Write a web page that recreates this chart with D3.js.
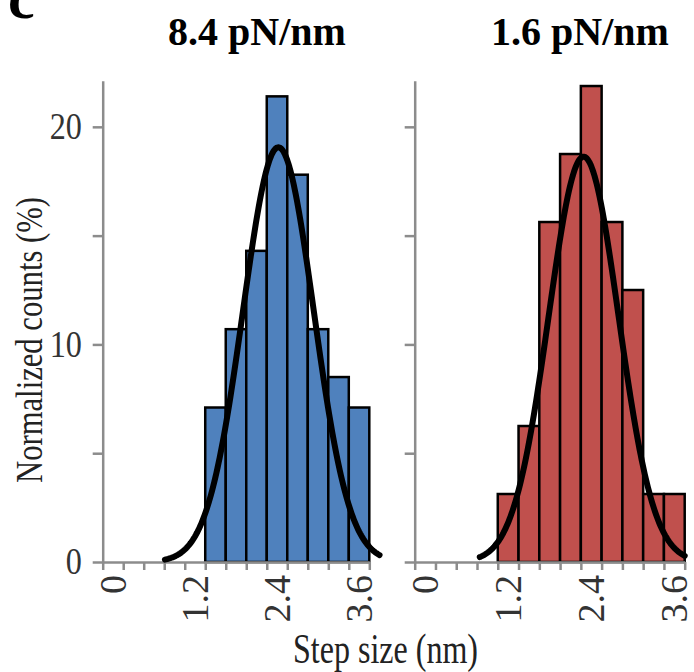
<!DOCTYPE html>
<html>
<head>
<meta charset="utf-8">
<script src="https://cdn.jsdelivr.net/npm/d3@7"></script>
<style>
  html, body { margin: 0; padding: 0; background: #fff; }
  svg { display: block; }
</style>
</head>
<body>
<svg id="chart" width="694" height="672"></svg>
<script>
// ---- data ----
const panelTitles = ["8.4 pN/nm", "1.6 pN/nm"];
const binWidth = 0.3;
const binCentersLeft = [1.5, 1.8, 2.1, 2.4, 2.7, 3.0, 3.3, 3.6];
const valuesLeft = [7.1, 10.7, 14.3, 21.4, 17.8, 10.7, 8.5, 7.1];
const binCentersRight = [1.2, 1.5, 1.8, 2.1, 2.4, 2.7, 3.0, 3.3, 3.6];
const valuesRight = [3.125, 6.25, 15.625, 18.75, 21.875, 15.625, 12.5, 3.125, 3.125];
// Gaussian fit parameters: [amplitude, mean, sigma, xStart, xEnd]
const fitLeft = [19.06, 2.42, 0.517, 0.76, 3.9];
const fitRight = [18.63, 2.29, 0.505, 0.79, 3.75];
const xTickLabels = [0, 1.2, 2.4, 3.6];
const xMinorTicks = d3.range(0, 14).map(k => -0.15 + 0.3 * k);
const yTicks = [0, 5, 10, 15, 20];
const yTickLabels = [0, 10, 20];

const svg = d3.select("#chart");
const font = "'Liberation Serif', 'Times New Roman', serif";
const axisColor = "#8c8c8c";

const y = d3.scaleLinear().domain([0, 22.12]).range([562, 80.7]);

const panels = [
  { title: panelTitles[0], centers: binCentersLeft, values: valuesLeft, fit: fitLeft,
    range: [102.7, 369.3], fill: "#4f81bd", titleX: 257, showYLabels: true },
  { title: panelTitles[1], centers: binCentersRight, values: valuesRight, fit: fitRight,
    range: [414.7, 684.7], fill: "#c0504d", titleX: 580, showYLabels: false }
];

panels.forEach(p => {
  const x = d3.scaleLinear().domain([-0.15, 3.75]).range(p.range);
  const g = svg.append("g");

  // bars
  g.selectAll("rect.bar").data(p.centers).join("rect")
    .attr("class", "bar")
    .attr("x", (c) => x(c - binWidth / 2))
    .attr("width", (c) => x(c + binWidth / 2) - x(c - binWidth / 2))
    .attr("y", (c, i) => y(p.values[i]))
    .attr("height", (c, i) => y(0) - y(p.values[i]))
    .attr("fill", p.fill)
    .attr("stroke", "#000")
    .attr("stroke-width", 2.5);

  // y axis
  const yAxis = d3.axisLeft(y).tickValues(yTicks).tickSize(10).tickSizeOuter(0).tickPadding(14)
    .tickFormat(d => (p.showYLabels && yTickLabels.includes(d)) ? d : "");
  const ya = g.append("g").attr("transform", `translate(${p.range[0]},0)`).call(yAxis);
  ya.select(".domain").attr("stroke", axisColor).attr("stroke-width", 2.5);
  ya.selectAll(".tick line").attr("stroke", axisColor).attr("stroke-width", 2.5);
  ya.selectAll(".tick text")
    .attr("font-family", font).attr("font-size", 37).attr("fill", "#333")
    .attr("transform", "scale(0.87,1)");

  // x axis minor ticks
  const xAxis = d3.axisBottom(x).tickValues(xMinorTicks).tickSize(8).tickSizeOuter(0).tickFormat("");
  const xa = g.append("g").attr("transform", `translate(0,${y(0)})`).call(xAxis);
  xa.select(".domain").attr("stroke", axisColor).attr("stroke-width", 2.5);
  xa.selectAll(".tick line").attr("stroke", axisColor).attr("stroke-width", 2.5);

  // x axis labels (rotated)
  const xLab = d3.axisBottom(x).tickValues(xTickLabels).tickSize(0).tickFormat(d => d === 0 ? "0" : d3.format(".1f")(d));
  const xl = g.append("g").attr("transform", `translate(0,${y(0)})`).call(xLab);
  xl.select(".domain").remove();
  xl.selectAll(".tick text")
    .attr("font-family", font).attr("font-size", 38).attr("fill", "#333")
    .attr("transform", "rotate(-90)")
    .attr("text-anchor", "end")
    .attr("x", -13).attr("y", 0).attr("dy", "0.33em");

  // gaussian fit
  const [amp, mu, sig, x0, x1] = p.fit;
  const pts = d3.range(0, 201).map(i => {
    const xv = x0 + (x1 - x0) * i / 200;
    return [xv, amp * Math.exp(-((xv - mu) ** 2) / (2 * sig * sig))];
  });
  g.append("path")
    .attr("d", d3.line().x(d => x(d[0])).y(d => y(d[1]))(pts))
    .attr("fill", "none").attr("stroke", "#000").attr("stroke-width", 6)
    .attr("stroke-linecap", "round").attr("stroke-linejoin", "round");

  // title
  svg.append("text").attr("x", p.titleX).attr("y", 45)
    .attr("text-anchor", "middle").attr("font-family", font)
    .attr("font-weight", "bold").attr("font-size", 40).attr("fill", "#000")
    .text(p.title);
});

// axis titles
svg.append("text")
  .attr("transform", "translate(42,340) rotate(-90)")
  .attr("text-anchor", "middle").attr("font-family", font).attr("font-size", 38).attr("fill", "#222")
  .attr("textLength", 286).attr("lengthAdjust", "spacingAndGlyphs")
  .text("Normalized counts (%)");

svg.append("text")
  .attr("x", 385.5).attr("y", 663)
  .attr("text-anchor", "middle").attr("font-family", font).attr("font-size", 42).attr("fill", "#222")
  .attr("textLength", 185).attr("lengthAdjust", "spacingAndGlyphs")
  .text("Step size (nm)");

// panel letter
svg.append("text").attr("x", 8).attr("y", 18)
  .attr("font-family", font).attr("font-weight", "bold").attr("font-size", 60).attr("fill", "#000")
  .text("c");
</script>
</body>
</html>
